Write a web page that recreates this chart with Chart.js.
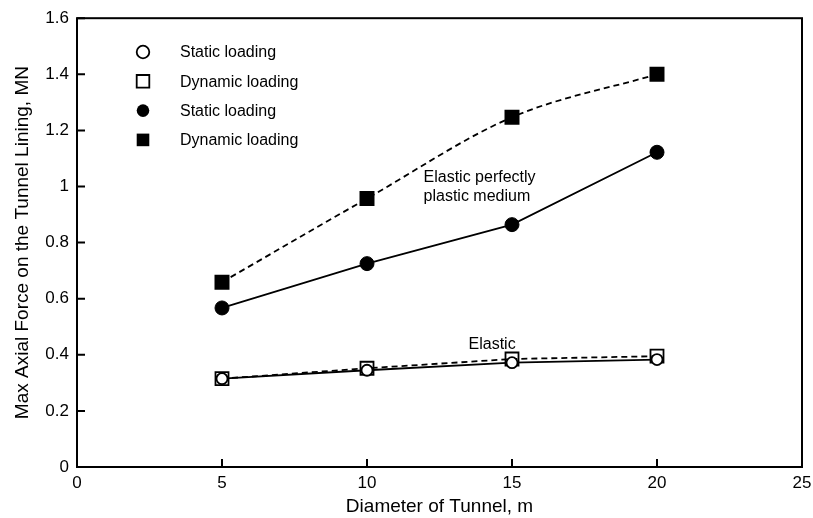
<!DOCTYPE html>
<html><head><meta charset="utf-8">
<script src="https://cdn.jsdelivr.net/npm/chart.js@4.4.0/dist/chart.umd.min.js"></script>
<style>html,body{margin:0;padding:0;background:#fff}#wrap{width:813px;height:518px}</style>
</head><body><div id="wrap"><canvas id="c" width="813" height="518"></canvas></div>
<script>
const diameters = [5, 10, 15, 20];
const elasticStatic = [0.315, 0.345, 0.372, 0.383];
const elasticDynamic = [0.315, 0.352, 0.385, 0.395];
const eppStatic = [0.567, 0.725, 0.864, 1.122];
const eppDynamic = [0.659, 0.957, 1.247, 1.400];
const xTicks = [0, 5, 10, 15, 20, 25];
const yTicks = [0, 0.2, 0.4, 0.6, 0.8, 1, 1.2, 1.4, 1.6];
const seriesLabels = ['Static loading', 'Dynamic loading', 'Static loading', 'Dynamic loading'];
const notes = [
  {x: 11.95, y: 1.03, lines: ['Elastic perfectly', 'plastic medium']},
  {x: 13.5, y: 0.436, lines: ['Elastic']}
];

const FONT = '"Liberation Sans", Arial, sans-serif';
const pts = arr => diameters.map((d, i) => ({x: d, y: arr[i]}));

const boxPlugin = {
  id: 'box',
  afterDraw(chart) {
    const ctx = chart.ctx, a = chart.chartArea;
    const xs = chart.scales.x, ys = chart.scales.y;
    ctx.save();
    ctx.strokeStyle = '#000';
    ctx.lineWidth = 2;
    ctx.strokeRect(a.left, a.top, a.right - a.left, a.bottom - a.top);
    ctx.beginPath();
    xTicks.forEach(v => { const px = xs.getPixelForValue(v); ctx.moveTo(px, a.bottom); ctx.lineTo(px, a.bottom - 8); });
    yTicks.forEach(v => { const py = ys.getPixelForValue(v); ctx.moveTo(a.left, py); ctx.lineTo(a.left + 8, py); });
    ctx.stroke();
    // legend
    ctx.font = '16px ' + FONT;
    ctx.textBaseline = 'middle';
    ctx.fillStyle = '#000';
    const lx = 143, ly0 = 52, dy = 29.3;
    chart.data.datasets.forEach((ds, i) => {
      const y = ly0 + i * dy;
      ctx.lineWidth = 1.8;
      ctx.beginPath();
      if (ds.pointStyle === 'circle') ctx.arc(lx, y, 6.3, 0, Math.PI * 2);
      else ctx.rect(lx - 6.3, y - 6.3, 12.6, 12.6);
      if (ds.pointBackgroundColor === '#000') { ctx.fillStyle = '#000'; ctx.fill(); }
      else { ctx.fillStyle = '#fff'; ctx.fill(); ctx.stroke(); }
      ctx.fillStyle = '#000';
      ctx.fillText(seriesLabels[i], 180, y + 1);
    });
    // notes
    notes.forEach(n => {
      const px = xs.getPixelForValue(n.x), py = ys.getPixelForValue(n.y);
      n.lines.forEach((t, k) => ctx.fillText(t, px, py + k * 18.5));
    });
    ctx.restore();
  }
};

new Chart(document.getElementById('c'), {
  type: 'line',
  data: {
    datasets: [
      {label: seriesLabels[0], data: pts(elasticStatic), borderColor: '#000', borderWidth: 1.8, pointStyle: 'circle', pointRadius: 5.5, pointBackgroundColor: '#fff', pointBorderColor: '#000', pointBorderWidth: 1.8, tension: 0},
      {label: seriesLabels[1], data: pts(elasticDynamic), borderColor: '#000', borderWidth: 1.8, borderDash: [6, 4], pointStyle: 'rect', pointRadius: 9.2, pointBackgroundColor: 'rgba(255,255,255,0)', pointBorderColor: '#000', pointBorderWidth: 1.8, tension: 0},
      {label: seriesLabels[2], data: pts(eppStatic), borderColor: '#000', borderWidth: 1.8, pointStyle: 'circle', pointRadius: 7, pointBorderWidth: 1, pointBackgroundColor: '#000', pointBorderColor: '#000', tension: 0},
      {label: seriesLabels[3], data: pts(eppDynamic), borderColor: '#000', borderWidth: 1.8, borderDash: [6, 4], pointStyle: 'rect', pointRadius: 10.6, pointBorderWidth: 0, pointBackgroundColor: '#000', pointBorderColor: '#000', cubicInterpolationMode: 'monotone'}
    ]
  },
  options: {
    responsive: false,
    animation: false,
    layout: {padding: {top: 18, right: 3, left: 0, bottom: 0}},
    plugins: {legend: {display: false}, tooltip: {enabled: false}},
    scales: {
      x: {
        type: 'linear', min: 0, max: 25,
        afterBuildTicks: s => { s.ticks = xTicks.map(v => ({value: v})); },
        afterFit: s => { s.height = 51; s.paddingRight = 0; s.paddingLeft = 0; },
        grid: {display: false, drawTicks: false},
        border: {display: false},
        ticks: {color: '#000', font: {size: 17, family: FONT}, padding: 6},
        title: {display: true, text: 'Diameter of Tunnel, m', color: '#000', font: {size: 19, family: FONT}, padding: {top: 0, bottom: 0}}
      },
      y: {
        type: 'linear', min: 0, max: 1.6,
        afterBuildTicks: s => { s.ticks = yTicks.map(v => ({value: v})); },
        afterFit: s => { s.width = 77; },
        grid: {display: false, drawTicks: false},
        border: {display: false},
        ticks: {color: '#000', font: {size: 17, family: FONT}, padding: 8, callback: v => String(Math.round(v * 10) / 10)},
        title: {display: true, text: 'Max Axial Force on the Tunnel Lining, MN', color: '#000', font: {size: 19, family: FONT}, padding: {top: 11, bottom: 0}}
      }
    }
  },
  plugins: [boxPlugin]
});
</script></body></html>
